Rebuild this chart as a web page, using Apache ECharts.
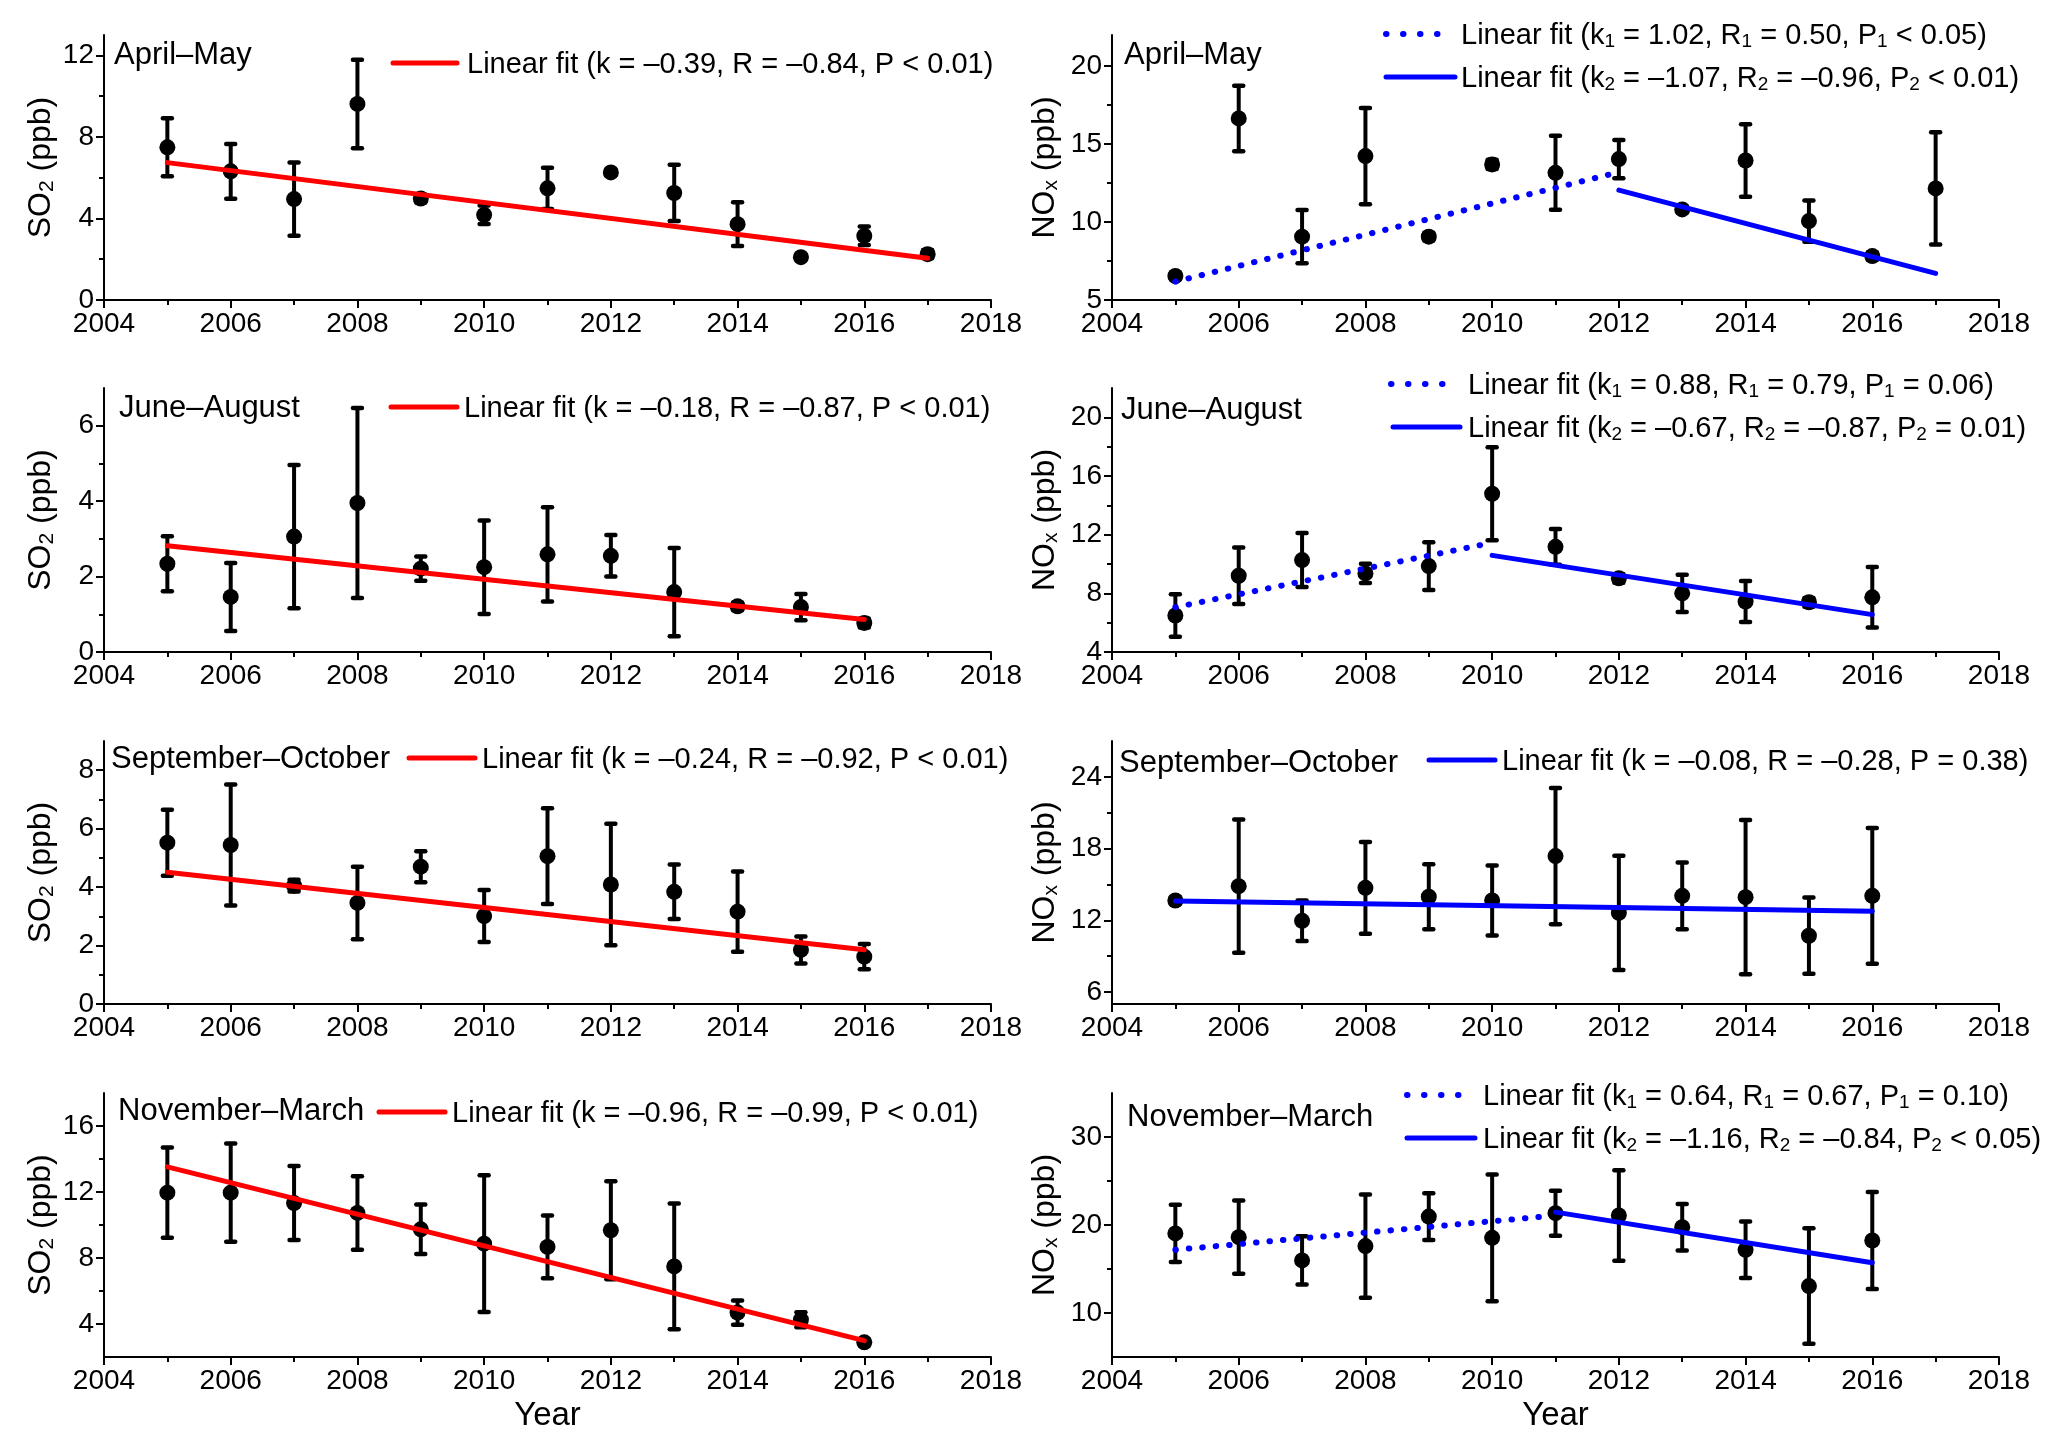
<!DOCTYPE html>
<html><head><meta charset="utf-8">
<script src="https://cdn.jsdelivr.net/npm/echarts@6/dist/echarts.min.js"></script>
<style>html,body{margin:0;padding:0;background:#fff}#c{width:2067px;height:1450px}</style>
</head><body><div id="c"></div>
<script>
// ---------------- data ----------------
const years13 = [2005,2006,2007,2008,2009,2010,2011,2012,2013,2014,2015,2016,2017];
const years12 = [2005,2006,2007,2008,2009,2010,2011,2012,2013,2014,2015,2016];
const xTicks = [2004,2006,2008,2010,2012,2014,2016,2018];

const so2AprMay    = [7.49,6.31,4.95,9.62,4.98,4.18,5.48,6.26,5.25,3.72,2.10,3.15,2.25];
const so2AprMayErr = [1.42,1.34,1.80,2.17,0.20,0.45,1.01,0.15,1.38,1.07,0.15,0.45,0.20];
const noxAprMay    = [6.54,16.65,9.06,14.23,9.06,13.70,13.16,14.04,10.81,13.95,10.06,7.82,12.16];
const noxAprMayErr = [0.20,2.10,1.71,3.08,0.25,0.30,2.37,1.23,0.20,2.32,1.33,0.25,3.60];

const so2JunAug    = [2.34,1.46,3.06,3.95,2.21,2.25,2.59,2.55,1.59,1.21,1.19,0.77];
const so2JunAugErr = [0.73,0.90,1.90,2.52,0.32,1.24,1.25,0.55,1.17,0.10,0.35,0.12];
const noxJunAug    = [6.49,9.20,10.27,9.36,9.86,14.79,11.17,9.02,8.00,7.44,7.39,7.73];
const noxJunAugErr = [1.45,1.92,1.84,0.66,1.63,3.17,1.22,0.30,1.27,1.40,0.30,2.06];

const so2SepOct    = [5.52,5.44,4.05,3.46,4.70,3.01,5.06,4.09,3.84,3.16,1.85,1.62];
const so2SepOctErr = [1.13,2.07,0.20,1.24,0.53,0.89,1.64,2.08,0.93,1.37,0.46,0.43];
const noxSepOct    = [13.66,14.86,11.96,14.72,13.97,13.66,17.37,12.63,14.05,13.94,10.71,14.05];
const noxSepOctErr = [0.30,5.57,1.70,3.84,2.72,2.93,5.69,4.78,2.79,6.46,3.19,5.68];

const so2NovMar    = [11.96,11.96,11.33,10.73,9.74,8.87,8.67,9.68,7.49,4.69,4.26,2.89];
const so2NovMarErr = [2.74,2.98,2.24,2.23,1.50,4.14,1.90,2.97,3.81,0.74,0.45,0.20];
const noxNovMar    = [19.04,18.62,15.97,17.60,20.96,18.54,21.34,21.08,19.75,17.18,13.06,18.24];
const noxNovMarErr = [3.25,4.17,2.74,5.88,2.66,7.20,2.55,5.14,2.65,3.21,6.56,5.50];

// linear fit end points [year, value]
const fitSo2AprMay  = [[2005,6.74],[2017,2.05]];
const fitNoxAprMay1 = [[2005,6.18],[2011.9,13.10]];
const fitNoxAprMay2 = [[2012,12.05],[2017,6.71]];
const fitSo2JunAug  = [[2005,2.82],[2016,0.86]];
const fitNoxJunAug1 = [[2005,7.05],[2010,11.45]];
const fitNoxJunAug2 = [[2010,10.59],[2016,6.55]];
const fitSo2SepOct  = [[2005,4.51],[2016,1.86]];
const fitNoxSepOct  = [[2005,13.61],[2016,12.76]];
const fitSo2NovMar  = [[2005,13.52],[2016,2.99]];
const fitNoxNovMar1 = [[2005,17.18],[2010.8,20.95]];
const fitNoxNovMar2 = [[2011,21.46],[2016,15.72]];

// y tick labels (major) and minor ticks
const yTicks = [[0,4,8,12],[5,10,15,20],[0,2,4,6],[4,8,12,16,20],[0,2,4,6,8],[6,12,18,24],[4,8,12,16],[10,20,30]];
const yMinor = [[2,6,10],[7.5,12.5,17.5],[1,3,5],[6,10,14,18],[1,3,5,7],[9,15,21],[6,10,14],[15,25]];
const yRange = [[0,13],[5,22],[0,7],[4,22],[0,9],[5,27],[2,18],[5,35]];

const seasons = ['April–May','April–May','June–August','June–August','September–October','September–October','November–March','November–March'];
const legendTexts = [
  ['Linear fit (k = –0.39, R = –0.84, P < 0.01)'],
  ['Linear fit (k{s|1} = 1.02, R{s|1} = 0.50, P{s|1} < 0.05)','Linear fit (k{s|2} = –1.07, R{s|2} = –0.96, P{s|2} < 0.01)'],
  ['Linear fit (k = –0.18, R = –0.87, P < 0.01)'],
  ['Linear fit (k{s|1} = 0.88, R{s|1} = 0.79, P{s|1} = 0.06)','Linear fit (k{s|2} = –0.67, R{s|2} = –0.87, P{s|2} = 0.01)'],
  ['Linear fit (k = –0.24, R = –0.92, P < 0.01)'],
  ['Linear fit (k = –0.08, R = –0.28, P = 0.38)'],
  ['Linear fit (k = –0.96, R = –0.99, P < 0.01)'],
  ['Linear fit (k{s|1} = 0.64, R{s|1} = 0.67, P{s|1} = 0.10)','Linear fit (k{s|2} = –1.16, R{s|2} = –0.84, P{s|2} < 0.05)']
];

// ---------------- layout / style ----------------
const FONT = 'Liberation Sans, Arial, sans-serif';
const RED = '#ff0000', BLUE = '#0000ff';
const DOT = [0.5, 13];
const colLeft = [104, 1112], colW = 887;
const rowTop = [35, 388, 741, 1093], rowH = [265, 264, 263, 264];

const panels = [
  {years: years13, mean: so2AprMay, err: so2AprMayErr, fits: [[fitSo2AprMay, RED, false]]},
  {years: years13, mean: noxAprMay, err: noxAprMayErr, fits: [[fitNoxAprMay1, BLUE, true],[fitNoxAprMay2, BLUE, false]]},
  {years: years12, mean: so2JunAug, err: so2JunAugErr, fits: [[fitSo2JunAug, RED, false]]},
  {years: years12, mean: noxJunAug, err: noxJunAugErr, fits: [[fitNoxJunAug1, BLUE, true],[fitNoxJunAug2, BLUE, false]]},
  {years: years12, mean: so2SepOct, err: so2SepOctErr, fits: [[fitSo2SepOct, RED, false]]},
  {years: years12, mean: noxSepOct, err: noxSepOctErr, fits: [[fitNoxSepOct, BLUE, false]]},
  {years: years12, mean: so2NovMar, err: so2NovMarErr, fits: [[fitSo2NovMar, RED, false]]},
  {years: years12, mean: noxNovMar, err: noxNovMarErr, fits: [[fitNoxNovMar1, BLUE, true],[fitNoxNovMar2, BLUE, false]]}
];

// season label positions [x, yCenter]
const seasonPos = [[114,55],[1124,55],[119,408],[1121,410],[111,759],[1119,763],[118,1111],[1127,1117]];
// legend rows: [x1, x2, y, textX, dotted]
const legendPos = [
  [[393,457,63,467,false]],
  [[1386,1442,34,1461,true],[1386,1455,77,1461,false]],
  [[391,457,407,464,false]],
  [[1391,1449,384,1468,true],[1393,1460,427,1468,false]],
  [[409,475,758,482,false]],
  [[1429,1495,760,1502,false]],
  [[379,445,1112,452,false]],
  [[1407,1463,1095,1483,true],[1407,1475,1138,1483,false]]
];

const grids = [], xAxes = [], yAxes = [], series = [], graphics = [];
const tickLine = {color:'#000', width:2};
const subRich = {sub:{fontSize:21, fontFamily:FONT, color:'#000', padding:[12,0,0,0]}};

panels.forEach((p, i) => {
  const col = i % 2, row = Math.floor(i / 2);
  grids.push({left: colLeft[col], top: rowTop[row], width: colW, height: rowH[row], containLabel:false, outerBoundsMode:'none'});
  xAxes.push({
    gridIndex: i, type:'value', min:2004, max:2018, interval:2,
    axisLine:{show:true, onZero:false, lineStyle:{color:'#000', width:2}},
    axisTick:{show:true, inside:false, length:8, customValues: xTicks, lineStyle: tickLine},
    minorTick:{show:true, splitNumber:2, length:5, lineStyle: tickLine},
    axisLabel:{show:true, customValues: xTicks, fontSize:28, fontFamily:FONT, color:'#000', margin:10, formatter: v => String(v)},
    splitLine:{show:false}, minorSplitLine:{show:false},
    name: row === 3 ? 'Year' : '', nameLocation:'middle', nameGap:42,
    nameTextStyle:{fontSize:33, fontFamily:FONT, color:'#000'}
  });
  yAxes.push({
    gridIndex: i, type:'value', min: yRange[i][0], max: yRange[i][1], position:'left',
    axisLine:{show:true, onZero:false, lineStyle:{color:'#000', width:2}},
    axisTick:{show:true, inside:false, length:8, customValues: yTicks[i], lineStyle: tickLine},
    axisLabel:{show:true, customValues: yTicks[i], fontSize:28, fontFamily:FONT, color:'#000', margin:10, formatter: v => String(v)},
    splitLine:{show:false},
    name: col === 0 ? 'SO{sub|2} (ppb)' : 'NO{sub|x} (ppb)',
    nameLocation:'middle', nameRotate:90, nameGap: col === 0 ? 46 : 50,
    nameTextStyle:{fontSize:32, fontFamily:FONT, color:'#000', rich: subRich}
  });
  yAxes.push({
    gridIndex: i, type:'value', min: yRange[i][0], max: yRange[i][1], position:'left', offset:0,
    axisLine:{show:false},
    axisTick:{show:true, inside:false, length:5, customValues: yMinor[i], lineStyle: tickLine},
    axisLabel:{show:false}, splitLine:{show:false}
  });
  const yIdx = i * 2;
  // error bars
  series.push({
    type:'custom', xAxisIndex:i, yAxisIndex:yIdx, z:2, silent:true,
    encode:{x:0, y:[1,2]},
    data: p.years.map((yr, k) => [yr, p.mean[k] - p.err[k], p.mean[k] + p.err[k]]),
    renderItem: (params, api) => {
      const hi = api.coord([api.value(0), api.value(2)]);
      const lo = api.coord([api.value(0), api.value(1)]);
      const cw = 4.5, st = {stroke:'#000', lineWidth:4.5, lineCap:'round'};
      return {type:'group', children:[
        {type:'line', shape:{x1:hi[0], y1:hi[1], x2:lo[0], y2:lo[1]}, style:{stroke:'#000', lineWidth:4}},
        {type:'line', shape:{x1:hi[0]-cw, y1:hi[1], x2:hi[0]+cw, y2:hi[1]}, style: st},
        {type:'line', shape:{x1:lo[0]-cw, y1:lo[1], x2:lo[0]+cw, y2:lo[1]}, style: st}
      ]};
    }
  });
  // mean points
  series.push({
    type:'scatter', xAxisIndex:i, yAxisIndex:yIdx, z:3, symbol:'circle', symbolSize:16,
    itemStyle:{color:'#000', opacity:1}, silent:true,
    data: p.years.map((yr, k) => [yr, p.mean[k]])
  });
  // fit lines
  p.fits.forEach(([pts, color, dotted]) => {
    series.push({
      type:'line', xAxisIndex:i, yAxisIndex:yIdx, z:4, symbol:'none', silent:true, animation:false,
      data: pts,
      lineStyle:{color, width: dotted ? 6 : 5, type: dotted ? DOT : 'solid', cap:'round', opacity:1}
    });
  });
  // season label
  graphics.push({type:'text', x: seasonPos[i][0], y: seasonPos[i][1],
    style:{text: seasons[i], fontSize:31, fontFamily:FONT, fill:'#000', verticalAlign:'middle', align:'left'}});
  // legend
  legendPos[i].forEach(([x1, x2, y, tx, dotted], j) => {
    const color = col === 0 ? RED : BLUE;
    graphics.push({type:'line', shape:{x1, y1:y, x2, y2:y},
      style:{stroke: color, lineWidth: dotted ? 6 : 5, lineDash: dotted ? [0.5, 16.5] : null, lineCap:'round'}});
    graphics.push({type:'text', x: tx, y: y + 2,
      style:{text: legendTexts[i][j], fontSize:29, fontFamily:FONT, fill:'#000', verticalAlign:'middle', align:'left',
        rich:{s:{fontSize:19, fontFamily:FONT, fill:'#000', padding:[11,0,0,0]}}}});
  });
});

const chart = echarts.init(document.getElementById('c'), null, {renderer:'canvas'});
chart.setOption({
  backgroundColor:'#fff',
  animation:false,
  textStyle:{fontFamily:FONT},
  grid: grids, xAxis: xAxes, yAxis: yAxes, series,
  graphic: graphics
});
</script></body></html>
